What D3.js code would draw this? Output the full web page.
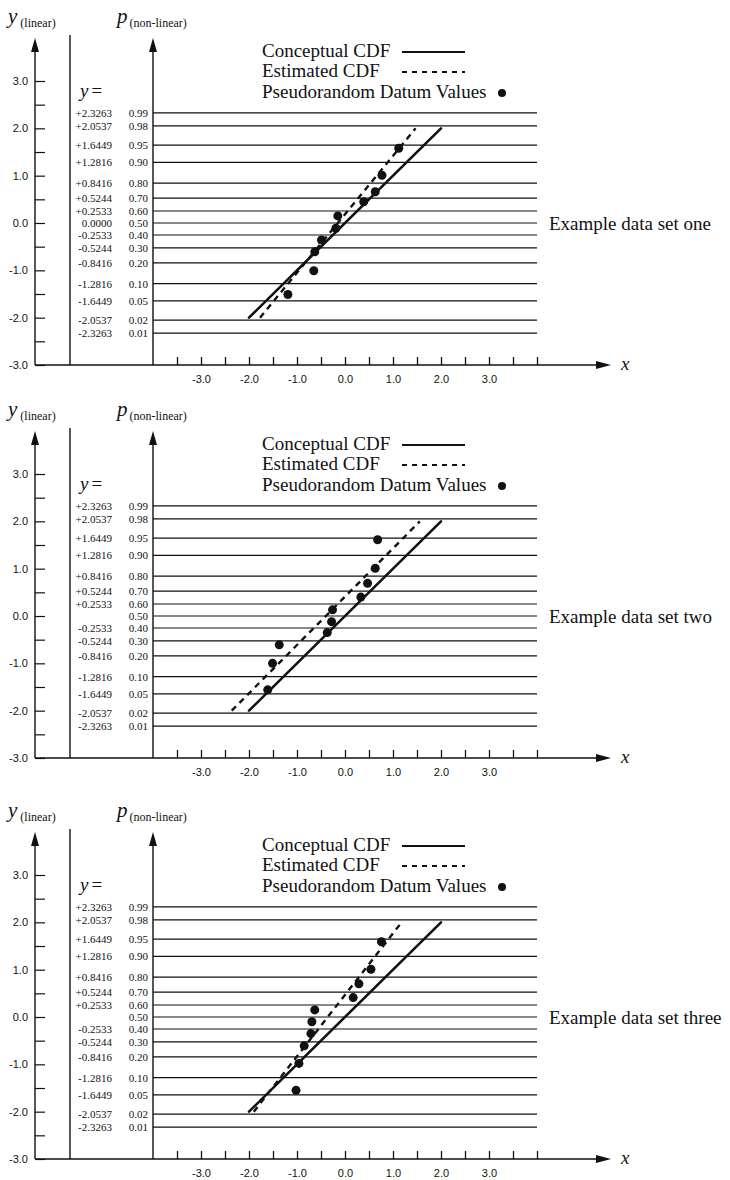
<!DOCTYPE html>
<html>
<head>
<meta charset="utf-8">
<script src="https://cdn.jsdelivr.net/npm/d3@7"></script>
<style>
  html, body { margin: 0; padding: 0; background: #fff; }
  svg { display: block; font-family: "Liberation Serif", "Times New Roman", serif; }
</style>
</head>
<body>
<script>
// Cumulative probabilities marked on the non-linear axis and their standard-normal quantiles
const probLevels = [0.99, 0.98, 0.95, 0.90, 0.80, 0.70, 0.60, 0.50, 0.40, 0.30, 0.20, 0.10, 0.05, 0.02, 0.01];
const zValues = [2.3263, 2.0537, 1.6449, 1.2816, 0.8416, 0.5244, 0.2533, 0.0, -0.2533, -0.5244, -0.8416, -1.2816, -1.6449, -2.0537, -2.3263];
const probLabels = ["0.99", "0.98", "0.95", "0.90", "0.80", "0.70", "0.60", "0.50", "0.40", "0.30", "0.20", "0.10", "0.05", "0.02", "0.01"];
const zLabels = ["+2.3263", "+2.0537", "+1.6449", "+1.2816", "+0.8416", "+0.5244", "+0.2533", "0.0000", "-0.2533", "-0.5244", "-0.8416", "-1.2816", "-1.6449", "-2.0537", "-2.3263"];

// Linear y axis ticks
const yLinearTicks = [-3, -2.5, -2, -1.5, -1, -0.5, 0, 0.5, 1, 1.5, 2, 2.5, 3];
const yLabelValues = [3, 2, 1, 0, -1, -2, -3];
const yLabelTexts = ["3.0", "2.0", "1.0", "0.0", "-1.0", "-2.0", "-3.0"];

// x axis ticks
const xTicks = [-3.5, -3, -2.5, -2, -1.5, -1, -0.5, 0, 0.5, 1, 1.5, 2, 2.5, 3, 3.5, 4];
const xLabelValues = [-3, -2, -1, 0, 1, 2, 3];
const xLabelTexts = ["-3.0", "-2.0", "-1.0", "0.0", "1.0", "2.0", "3.0"];

// Legend and panel captions
const legendLabels = ["Conceptual CDF", "Estimated CDF", "Pseudorandom Datum Values"];
const setNames = ["Example data set one", "Example data set two", "Example data set three"];

// Pseudorandom datum values (x) against their plotting positions (y)
const setOneX = [1.12, 0.77, 0.63, 0.39, -0.15, -0.19, -0.49, -0.63, -0.65, -1.19];
const setOneY = [1.58, 1.01, 0.66, 0.45, 0.15, -0.11, -0.36, -0.61, -1.01, -1.51];
const setTwoX = [0.68, 0.63, 0.47, 0.33, -0.26, -0.28, -0.37, -1.37, -1.51, -1.61];
const setTwoY = [1.61, 1.01, 0.69, 0.40, 0.13, -0.12, -0.35, -0.61, -1.00, -1.56];
const setThreeX = [0.76, 0.54, 0.29, 0.17, -0.63, -0.69, -0.71, -0.85, -0.96, -1.02];
const setThreeY = [1.59, 1.01, 0.70, 0.41, 0.15, -0.10, -0.35, -0.61, -0.98, -1.55];

// Estimated CDF parameters (sample mean and standard deviation) per data set
const estMean = [-0.15, -0.40, -0.36];
const estSd = [0.81, 0.98, 0.77];

// Both CDF lines are drawn between these y values (conceptual: standard normal, x = y)
const cdfRange = [-2, 2];

const W = 730, H = 1180;
const svg = d3.select("body").append("svg").attr("width", W).attr("height", H);
svg.append("rect").attr("width", W).attr("height", H).attr("fill", "#fff");

const panelTop = [0, 393, 794];
const sets = [[setOneX, setOneY], [setTwoX, setTwoY], [setThreeX, setThreeY]];

const x = d3.scaleLinear().domain([-4, 4]).range([153, 537]);
const y = d3.scaleLinear().domain([-3, 3]).range([365, 81]);

const linAxisX = 35, dividerX = 70, pAxisX = x(-4);
const ink = "#111";

function upArrow(g, cx, tipY) {
  g.append("path")
    .attr("d", `M${cx},${tipY} L${cx - 4},${tipY + 14} L${cx + 4},${tipY + 14} Z`)
    .attr("fill", ink);
}

function drawPanel(i) {
  const g = svg.append("g").attr("transform", `translate(0,${panelTop[i]})`);
  const [xs, ys] = sets[i];

  // Axis titles
  const yt = g.append("text").attr("x", 8).attr("y", 23).attr("fill", ink);
  yt.append("tspan").attr("font-style", "italic").attr("font-size", 21).text("y");
  yt.append("tspan").attr("font-size", 12).attr("dx", 3).attr("dy", 4).text("(linear)");
  const pt = g.append("text").attr("x", 117).attr("y", 23).attr("fill", ink);
  pt.append("tspan").attr("font-style", "italic").attr("font-size", 21).text("p");
  pt.append("tspan").attr("font-size", 12).attr("dx", 2).attr("dy", 4).text("(non-linear)");

  // Linear y axis
  const yAxis = d3.axisLeft(y)
    .tickValues(yLinearTicks)
    .tickSizeInner(-10).tickSizeOuter(0).tickPadding(7)
    .tickFormat(d => { const k = yLabelValues.indexOf(d); return k >= 0 ? yLabelTexts[k] : ""; });
  const ya = g.append("g").attr("transform", `translate(${linAxisX},0)`).call(yAxis);
  ya.select(".domain").remove();
  ya.selectAll("line").attr("stroke", ink).attr("stroke-width", 1.2);
  ya.selectAll("text").attr("font-family", null).attr("font-size", 11).attr("fill", ink);
  g.append("line").attr("x1", linAxisX).attr("x2", linAxisX)
    .attr("y1", y(-3)).attr("y2", 46).attr("stroke", ink).attr("stroke-width", 1.4);
  upArrow(g, linAxisX, 38);

  // Divider beside the label columns
  g.append("line").attr("x1", dividerX).attr("x2", dividerX)
    .attr("y1", 35).attr("y2", y(-3)).attr("stroke", ink).attr("stroke-width", 1.4);

  // Non-linear probability axis
  g.append("line").attr("x1", pAxisX).attr("x2", pAxisX)
    .attr("y1", y(-3)).attr("y2", 46).attr("stroke", ink).attr("stroke-width", 1.4);
  upArrow(g, pAxisX, 38);

  // "y =" heading
  const yeq = g.append("text").attr("x", 80).attr("y", 97).attr("fill", ink).attr("font-size", 19);
  yeq.append("tspan").attr("font-style", "italic").text("y");
  yeq.append("tspan").attr("dx", 3).text("=");

  // Probability grid lines with their labels
  g.selectAll(".grid").data(zValues).join("line")
    .attr("x1", pAxisX).attr("x2", x(4))
    .attr("y1", d => y(d)).attr("y2", d => y(d))
    .attr("stroke", ink).attr("stroke-width", 1.2);
  g.selectAll(".zlab").data(zValues).join("text")
    .attr("x", 112).attr("y", d => y(d)).attr("dy", "0.35em")
    .attr("text-anchor", "end").attr("font-size", 11).attr("fill", ink)
    .text((d, j) => (i > 0 && probLevels[j] === 0.5) ? "" : zLabels[j]);
  g.selectAll(".plab").data(zValues).join("text")
    .attr("x", 148).attr("y", d => y(d)).attr("dy", "0.35em")
    .attr("text-anchor", "end").attr("font-size", 11).attr("fill", ink)
    .text((d, j) => probLabels[j]);

  // x axis
  const xAxis = d3.axisBottom(x)
    .tickValues(xTicks)
    .tickSizeInner(-8).tickSizeOuter(0).tickPadding(10)
    .tickFormat(d => { const k = xLabelValues.indexOf(d); return k >= 0 ? xLabelTexts[k] : ""; });
  const xa = g.append("g").attr("transform", `translate(0,${y(-3)})`).call(xAxis);
  xa.select(".domain").remove();
  xa.selectAll("line").attr("stroke", ink).attr("stroke-width", 1.3);
  xa.selectAll("text").attr("font-family", null).attr("font-size", 11).attr("fill", ink);
  g.append("line").attr("x1", linAxisX).attr("x2", 600)
    .attr("y1", y(-3)).attr("y2", y(-3)).attr("stroke", ink).attr("stroke-width", 1.6);
  g.append("path")
    .attr("d", `M596,${y(-3) - 4} L611,${y(-3)} L596,${y(-3) + 4} Z`).attr("fill", ink);
  g.append("text").attr("x", 621).attr("y", y(-3) + 5).attr("font-style", "italic")
    .attr("font-size", 19).attr("fill", ink).text("x");

  // Conceptual CDF (standard normal)
  g.append("line")
    .attr("x1", x(cdfRange[0])).attr("y1", y(cdfRange[0]))
    .attr("x2", x(cdfRange[1])).attr("y2", y(cdfRange[1]))
    .attr("stroke", ink).attr("stroke-width", 2.6).attr("stroke-linecap", "round");

  // Estimated CDF
  const m = estMean[i], s = estSd[i];
  g.append("line")
    .attr("x1", x(m + s * cdfRange[0])).attr("y1", y(cdfRange[0]))
    .attr("x2", x(m + s * cdfRange[1])).attr("y2", y(cdfRange[1]))
    .attr("stroke", ink).attr("stroke-width", 2.4).attr("stroke-dasharray", "6,5");

  // Datum values
  g.selectAll(".pt").data(xs).join("circle")
    .attr("cx", d => x(d)).attr("cy", (d, j) => y(ys[j]))
    .attr("r", 4.5).attr("fill", ink);

  // Legend
  const lx = 262;
  const lb = [57, 77, 98];
  legendLabels.forEach((t, k) => {
    g.append("text").attr("x", lx).attr("y", lb[k]).attr("font-size", 19).attr("fill", ink).text(t);
  });
  g.append("line").attr("x1", 402).attr("x2", 465).attr("y1", 52).attr("y2", 52)
    .attr("stroke", ink).attr("stroke-width", 2);
  g.append("line").attr("x1", 402).attr("x2", 465).attr("y1", 72).attr("y2", 72)
    .attr("stroke", ink).attr("stroke-width", 1.8).attr("stroke-dasharray", "5,5");
  g.append("circle").attr("cx", 502).attr("cy", 93).attr("r", 4).attr("fill", ink);

  // Panel caption
  g.append("text").attr("x", 549).attr("y", 230).attr("font-size", 19).attr("fill", ink).text(setNames[i]);
}

[0, 1, 2].forEach(drawPanel);
</script>
</body>
</html>
